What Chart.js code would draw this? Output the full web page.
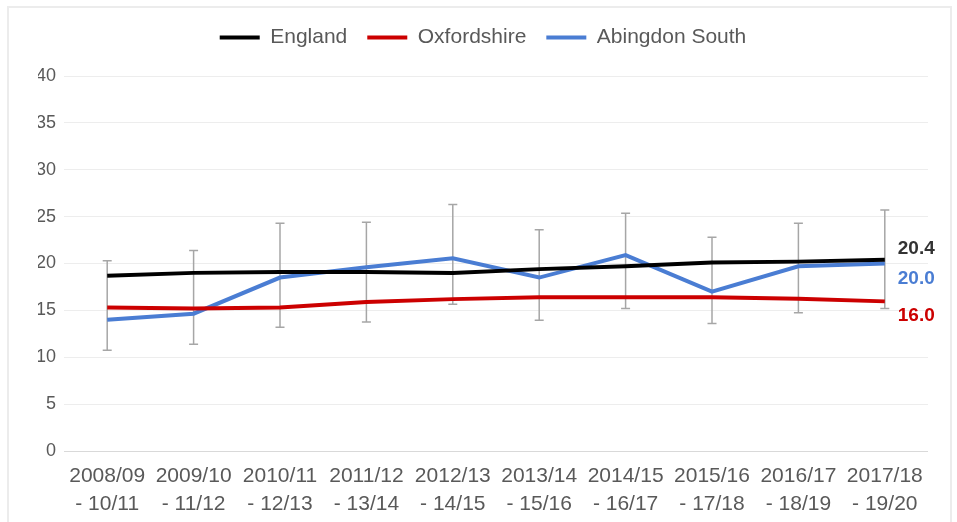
<!DOCTYPE html>
<html>
<head>
<meta charset="utf-8">
<script src="https://cdn.jsdelivr.net/npm/chart.js@4.4.1/dist/chart.umd.min.js"></script>
<style>
    body { margin: 0; background: #fff; }
    #wrap { position: absolute; left: 0; top: 0; width: 957px; height: 522px; }
    #frame { position: absolute; left: 7px; top: 6px; width: 941px; height: 600px; border: 2px solid #ececec; pointer-events: none; }
</style>
</head>
<body>
<div id="wrap"><canvas id="trendChart"></canvas></div>
<div id="frame"></div>
<script>
// Dữ liệu
const categories = [
    ['2008/09', '- 10/11'], ['2009/10', '- 11/12'], ['2010/11', '- 12/13'],
    ['2011/12', '- 13/14'], ['2012/13', '- 14/15'], ['2013/14', '- 15/16'],
    ['2014/15', '- 16/17'], ['2015/16', '- 17/18'], ['2016/17', '- 18/19'],
    ['2017/18', '- 19/20']
];
const england = [18.7, 19.0, 19.1, 19.1, 19.0, 19.4, 19.7, 20.1, 20.2, 20.4];
const oxfordshire = [15.3, 15.2, 15.3, 15.9, 16.2, 16.4, 16.4, 16.4, 16.25, 15.96];
const abingdon = [14.0, 14.65, 18.5, 19.6, 20.55, 18.5, 20.9, 17.0, 19.7, 20.0];
const abingdonLow = [10.75, 11.4, 13.2, 13.75, 15.65, 13.95, 15.2, 13.6, 14.75, 15.2];
const abingdonHigh = [20.3, 21.4, 24.3, 24.4, 26.3, 23.6, 25.35, 22.8, 24.3, 25.7];
const yTicks = [0, 5, 10, 15, 20, 25, 30, 35, 40];

const FONT = "'Liberation Sans', Arial, sans-serif";

// Vẽ thanh sai số (error bar) cho Abingdon South
const errorBarPlugin = {
    id: 'errorBars',
    beforeDatasetsDraw(chart) {
        const ctx = chart.ctx;
        const x = chart.scales.x;
        const y = chart.scales.y;
        ctx.save();
        ctx.strokeStyle = '#a6a6a6';
        ctx.lineWidth = 1.5;
        abingdonLow.forEach((low, i) => {
            const px = x.getPixelForValue(i);
            const top = y.getPixelForValue(abingdonHigh[i]);
            const bottom = y.getPixelForValue(low);
            ctx.beginPath();
            ctx.moveTo(px, top);
            ctx.lineTo(px, bottom);
            ctx.moveTo(px - 4.5, top);
            ctx.lineTo(px + 4.5, top);
            ctx.moveTo(px - 4.5, bottom);
            ctx.lineTo(px + 4.5, bottom);
            ctx.stroke();
        });
        ctx.restore();
    }
};

// Nhãn giá trị cuối mỗi đường
const endLabelPlugin = {
    id: 'endLabels',
    afterDatasetsDraw(chart, args, opts) {
        const ctx = chart.ctx;
        ctx.save();
        ctx.font = 'bold 19px ' + FONT;
        ctx.textAlign = 'left';
        ctx.textBaseline = 'middle';
        chart.data.datasets.forEach((ds, i) => {
            const meta = chart.getDatasetMeta(i);
            const pt = meta.data[meta.data.length - 1];
            const val = ds.data[ds.data.length - 1];
            ctx.fillStyle = opts.colors[i];
            ctx.fillText(val.toFixed(1), pt.x + 13, pt.y + opts.shift[i]);
        });
        ctx.restore();
    }
};

// Thêm khoảng trống dưới chú thích (legend)
const legendGapPlugin = {
    id: 'legendGap',
    afterInit(chart) {
        const legend = chart.legend;
        if (!legend) return;
        const fit = legend.fit;
        legend.fit = function() {
            fit.call(this);
            this.height += 18;
        };
    }
};

const ctx = document.getElementById('trendChart').getContext('2d');
new Chart(ctx, {
    type: 'line',
    data: {
        labels: categories,
        datasets: [
            { label: 'England', data: england, borderColor: '#000000', backgroundColor: '#000000' },
            { label: 'Oxfordshire', data: oxfordshire, borderColor: '#cc0000', backgroundColor: '#cc0000' },
            { label: 'Abingdon South', data: abingdon, borderColor: '#4a7dd3', backgroundColor: '#4a7dd3' }
        ]
    },
    options: {
        responsive: true,
        maintainAspectRatio: false,
        animation: false,
        layout: { padding: { top: 7, right: 29, bottom: 5, left: 38 } },
        elements: {
            line: { borderWidth: 4, tension: 0 },
            point: { radius: 0, hoverRadius: 0 }
        },
        scales: {
            x: {
                offset: true,
                afterFit(scale) { scale.height = 66; },
                grid: { display: false },
                border: { display: false },
                ticks: {
                    color: '#595959',
                    font: { family: FONT, size: 21, lineHeight: 1.33 },
                    padding: 3,
                    maxRotation: 0,
                    autoSkip: false
                }
            },
            y: {
                min: 0,
                max: 40,
                afterFit(scale) { scale.width = 26; },
                afterBuildTicks(scale) { scale.ticks = yTicks.map(v => ({ value: v })); },
                grid: {
                    drawTicks: false,
                    color: c => c.tick && c.tick.value === 0 ? '#d9d9d9' : '#ededed',
                    lineWidth: 1
                },
                border: { display: false },
                ticks: {
                    color: '#595959',
                    font: { family: FONT, size: 18 },
                    padding: 8
                }
            }
        },
        plugins: {
            legend: {
                position: 'top',
                labels: {
                    color: '#595959',
                    font: { family: FONT, size: 21 },
                    boxWidth: 40,
                    boxHeight: 4,
                    padding: 20,
                    generateLabels(chart) {
                        const items = Chart.defaults.plugins.legend.labels.generateLabels(chart);
                        items.forEach(item => { item.lineWidth = 0; });
                        return items;
                    }
                }
            },
            tooltip: { enabled: false },
            endLabels: {
                colors: ['#333333', '#cc0000', '#4a7dd3'],
                shift: [-11, 14, 15]
            }
        }
    },
    plugins: [legendGapPlugin, errorBarPlugin, endLabelPlugin]
});
</script>
</body>
</html>
